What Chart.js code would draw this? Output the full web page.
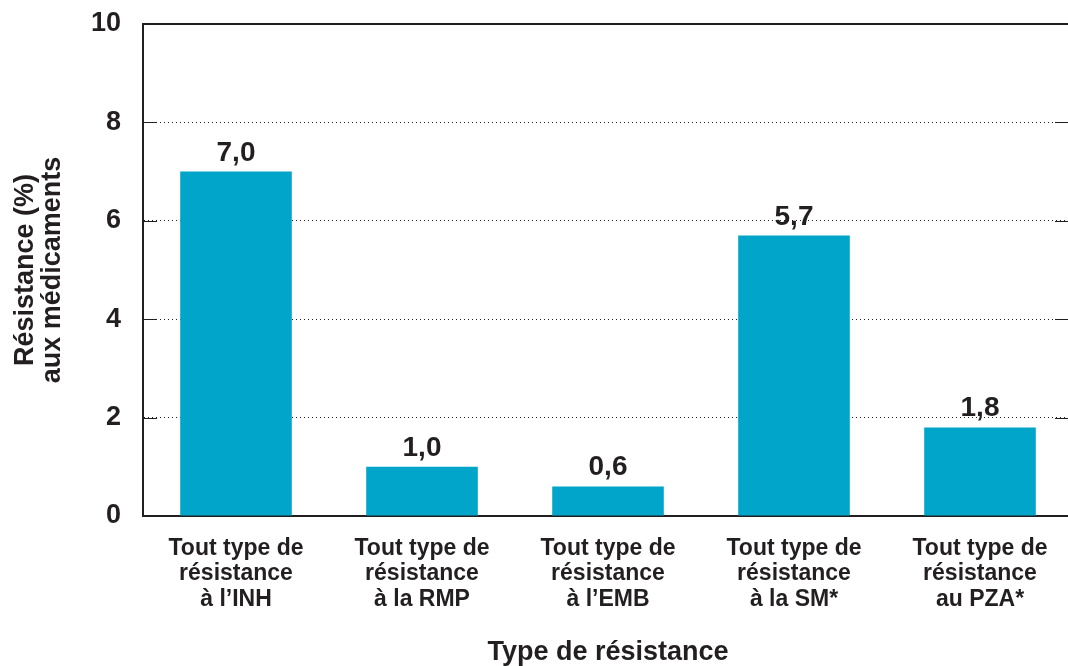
<!DOCTYPE html>
<html>
<head>
<meta charset="utf-8">
<script src="https://cdn.jsdelivr.net/npm/chart.js@4/dist/chart.umd.min.js"></script>
<style>
html, body { margin: 0; padding: 0; background: #fff; overflow: hidden; width: 1068px; height: 666px; }
#wrap { width: 1080px; height: 666px; }
</style>
</head>
<body>
<div id="wrap"><canvas id="c" width="1080" height="666"></canvas></div>
<script>
const categories = [
  ['Tout type de', 'résistance', 'à l\u2019INH'],
  ['Tout type de', 'résistance', 'à la RMP'],
  ['Tout type de', 'résistance', 'à l\u2019EMB'],
  ['Tout type de', 'résistance', 'à la SM*'],
  ['Tout type de', 'résistance', 'au PZA*']
];
const resistanceValues = [7.0, 1.0, 0.6, 5.7, 1.8];
const yTicks = [0, 2, 4, 6, 8, 10];
const yTitle = ['Résistance (%)', 'aux médicaments'];
const xTitle = 'Type de résistance';

const INK = '#231f20';
const BAR = '#00a5c9';
const FONT = '"Liberation Sans", Arial, Helvetica, sans-serif';

const frameAndLabels = {
  id: 'frameAndLabels',
  afterDraw(chart) {
    const ctx = chart.ctx;
    const a = chart.chartArea;
    const y = chart.scales.y;
    ctx.save();
    ctx.strokeStyle = INK;
    ctx.lineWidth = 2;
    ctx.beginPath();
    ctx.moveTo(a.left - 1, y.getPixelForValue(10));
    ctx.lineTo(a.right, y.getPixelForValue(10));
    ctx.stroke();
    ctx.lineWidth = 1;
    yTicks.forEach(v => {
      if (v === 0 || v === 10) return;
      const py = Math.round(y.getPixelForValue(v)) + 0.5;
      ctx.beginPath();
      ctx.moveTo(a.left, py); ctx.lineTo(a.left + 14, py);
      ctx.moveTo(a.right - 18, py); ctx.lineTo(a.right, py);
      ctx.stroke();
    });
    ctx.fillStyle = INK;
    ctx.font = 'bold 28px ' + FONT;
    ctx.textAlign = 'center';
    ctx.textBaseline = 'alphabetic';
    const meta = chart.getDatasetMeta(0);
    meta.data.forEach((bar, i) => {
      const txt = resistanceValues[i].toFixed(1).replace('.', ',');
      ctx.fillText(txt, bar.x, bar.y - 11);
    });
    ctx.restore();
  }
};

new Chart(document.getElementById('c'), {
  type: 'bar',
  data: {
    labels: categories,
    datasets: [{
      data: resistanceValues,
      backgroundColor: BAR,
      borderWidth: 0,
      barPercentage: 0.6,
      categoryPercentage: 1.0
    }]
  },
  options: {
    responsive: false,
    animation: false,
    devicePixelRatio: 1,
    layout: { padding: { left: 0, right: 7, top: 24, bottom: 0 } },
    plugins: { legend: { display: false }, tooltip: { enabled: false } },
    scales: {
      x: {
        afterFit: s => { s.height = 150; s.paddingLeft = 0; s.paddingRight = 0; },
        grid: { display: false, drawTicks: false },
        border: { display: true, color: INK, width: 2 },
        ticks: {
          color: INK,
          padding: 20,
          maxRotation: 0,
          autoSkip: false,
          font: { family: FONT, size: 23, weight: 'bold', lineHeight: 1.1 }
        },
        title: {
          display: true,
          text: xTitle,
          color: INK,
          padding: { top: 0, bottom: 0 },
          font: { family: FONT, size: 27, weight: 'bold', lineHeight: 1.0 }
        }
      },
      y: {
        min: 0,
        max: 10,
        afterFit: s => { s.width = 143; s.paddingTop = 0; s.paddingBottom = 0; },
        afterBuildTicks: s => { s.ticks = yTicks.map(v => ({ value: v })); },
        grid: {
          drawTicks: false,
          color: ctx => (ctx.tick && (ctx.tick.value === 0 || ctx.tick.value === 10)) ? 'rgba(0,0,0,0)' : INK,
          lineWidth: 1
        },
        border: { display: true, color: INK, width: 2, dash: [1, 3] },
        ticks: {
          color: INK,
          padding: 22,
          font: { family: FONT, size: 27, weight: 'bold' }
        },
        title: {
          display: true,
          text: yTitle,
          color: INK,
          padding: { top: 12, bottom: 0 },
          font: { family: FONT, size: 27, weight: 'bold', lineHeight: 1.0 }
        }
      }
    }
  },
  plugins: [frameAndLabels]
});
</script>
</body>
</html>
